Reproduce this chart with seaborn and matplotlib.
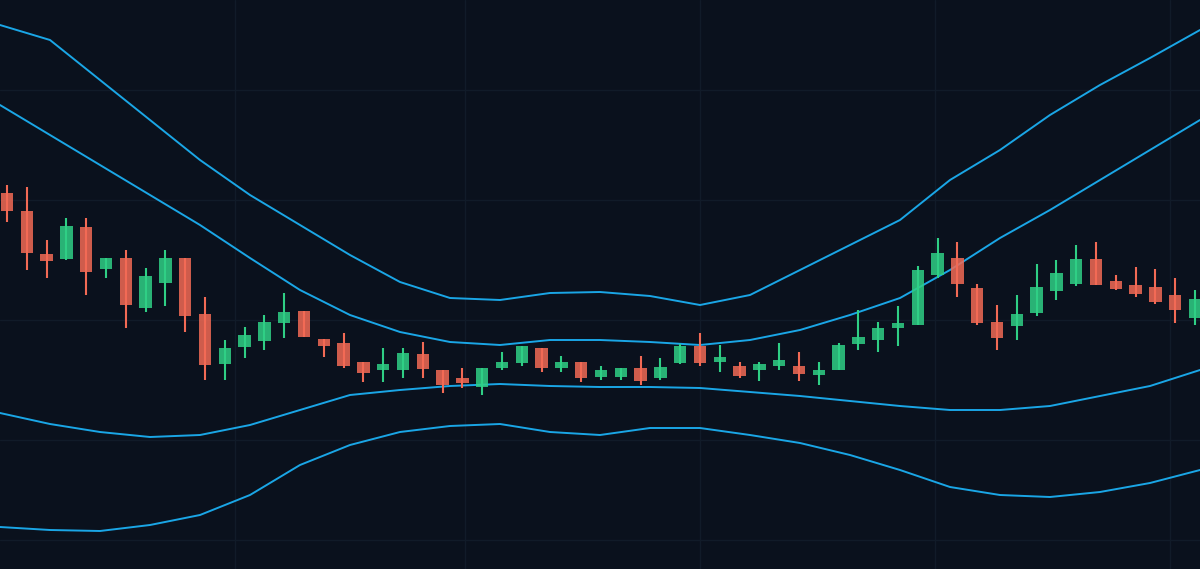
"""Candlestick chart with volatility bands on a dark background."""

import matplotlib
matplotlib.use("Agg")
import matplotlib.pyplot as plt
import numpy as np
import pandas as pd
import seaborn as sns

# candle values (in chart units where larger = lower on screen)
opens = [193, 211, 254, 259, 227, 269, 258, 308, 283, 258, 314, 364, 347, 341, 323, 311,
         339, 343, 362, 370, 370, 354, 370, 378, 387, 368, 363, 348, 368, 362, 377, 377,
         368, 378, 363, 346, 362, 366, 370, 366, 366, 375, 370, 344, 340, 328, 325, 275,
         258, 288, 322, 326, 313, 291, 284, 259, 281, 285, 287, 295, 318]
closes = [211, 253, 261, 226, 272, 258, 305, 276, 258, 316, 365, 348, 335, 322, 312, 337,
          346, 366, 373, 364, 353, 369, 385, 383, 368, 362, 346, 368, 362, 378, 370, 368,
          381, 367, 346, 363, 357, 376, 364, 360, 374, 370, 345, 337, 328, 323, 270, 253,
          284, 323, 338, 314, 287, 273, 259, 285, 289, 294, 302, 310, 299]
highs = [185, 187, 240, 218, 218, 258, 250, 268, 250, 258, 297, 340, 327, 315, 293, 311,
         339, 333, 362, 348, 348, 342, 370, 368, 368, 352, 346, 348, 356, 362, 366, 368,
         356, 358, 344, 333, 345, 362, 362, 343, 352, 362, 343, 310, 322, 306, 266, 238,
         242, 284, 305, 295, 264, 260, 245, 242, 275, 267, 269, 278, 290]
lows = [222, 270, 278, 260, 295, 278, 328, 312, 306, 332, 380, 380, 358, 350, 338, 337,
        357, 368, 382, 382, 378, 378, 393, 388, 395, 370, 366, 372, 372, 382, 380, 380,
        385, 380, 364, 366, 372, 378, 381, 370, 381, 385, 370, 350, 352, 346, 325, 278,
        297, 325, 350, 340, 316, 300, 286, 285, 290, 297, 304, 323, 325]

# band lines, sampled along the screen
band_px = [0, 50, 100, 150, 200, 250, 300, 350, 400, 450, 500, 550, 600,
           650, 700, 750, 800, 850, 900, 950, 1000, 1050, 1100, 1150, 1200]
upper_outer = [25, 40, 80, 120, 160, 195, 225, 255, 282, 298, 300, 293, 292,
               296, 305, 295, 270, 245, 220, 180, 150, 115, 85, 58, 30]
upper_inner = [105, 135, 165, 195, 225, 258, 290, 315, 332, 342, 345, 340, 340,
               342, 345, 340, 330, 315, 298, 270, 238, 210, 180, 150, 120]
lower_inner = [413, 424, 432, 437, 435, 425, 410, 395, 390, 386, 384, 386, 387,
               387, 388, 392, 396, 401, 406, 410, 410, 406, 396, 386, 370]
lower_outer = [527, 530, 531, 525, 515, 495, 465, 445, 432, 426, 424, 432, 435,
               428, 428, 435, 443, 455, 470, 487, 495, 497, 492, 483, 470]

BG = "#0a111d"
UP = "#2fcf85"
DOWN = "#f26a55"
BAND = "#1aa6e6"
GRID = "#111b29"

sns.set_theme(style="dark", rc={"axes.facecolor": BG, "figure.facecolor": BG})

fig = plt.figure(figsize=(12, 5.69), dpi=100)
ax = fig.add_axes([0, 0, 1, 1])
ax.set_facecolor(BG)

STEP = 19.8
for gx in [235, 465, 700, 935, 1170]:
    ax.axvline((gx - 7) / STEP, color=GRID, lw=1, zorder=0)
for gy in [90, 200, 320, 440, 540]:
    ax.axhline(gy, color=GRID, lw=1, zorder=0)

bands = pd.DataFrame({"x": (np.array(band_px) - 7) / STEP, "uo": upper_outer,
                      "ui": upper_inner, "li": lower_inner, "lo": lower_outer})
for col in ["uo", "ui", "li", "lo"]:
    sns.lineplot(data=bands, x="x", y=col, ax=ax, color=BAND, lw=1.4, zorder=2)

idx = np.arange(len(opens))
o, c, h, l = map(np.array, (opens, closes, highs, lows))
colors = [UP if cc < oo else DOWN for oo, cc in zip(o, c)]
ax.vlines(idx, h, l, colors=colors, lw=1.5, zorder=3)
ax.bar(idx, np.abs(c - o), bottom=np.minimum(o, c), width=0.62, color=colors,
       alpha=0.85, linewidth=0, edgecolor="none", zorder=4)

ax.set_xlim(-7 / STEP, 1193 / STEP)
ax.set_ylim(569, 0)
ax.set_xlabel("")
ax.set_ylabel("")
ax.set_xticks([])
ax.set_yticks([])
for s in ax.spines.values():
    s.set_visible(False)

fig.savefig("out.png", dpi=100, facecolor=BG)
